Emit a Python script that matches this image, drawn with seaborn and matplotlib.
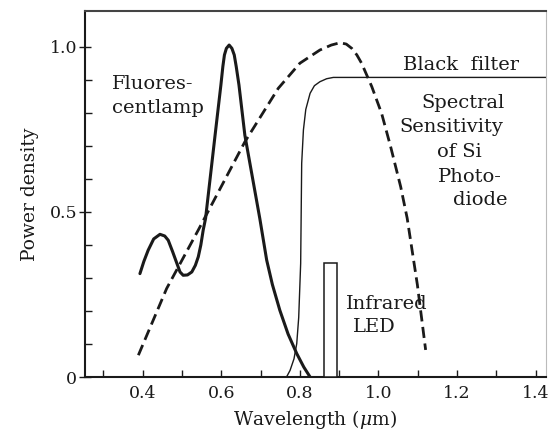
import matplotlib
matplotlib.use("Agg")
import matplotlib.pyplot as plt
from matplotlib.ticker import FixedLocator, FuncFormatter
import pandas as pd
import seaborn as sns

# values (wavelength in um, relative power)
lamp_wl = [0.393, 0.403, 0.414, 0.428, 0.444, 0.456, 0.465, 0.476, 0.487, 0.495,
           0.503, 0.514, 0.525, 0.534, 0.5415, 0.548, 0.554, 0.560, 0.584, 0.599,
           0.604, 0.608, 0.613, 0.620, 0.627, 0.633, 0.638, 0.645, 0.660,
           0.698, 0.7155, 0.730, 0.749, 0.770, 0.792, 0.810, 0.826]
lamp_pw = [0.313, 0.350, 0.384, 0.418, 0.432, 0.427, 0.414, 0.380, 0.344, 0.318,
           0.308, 0.309, 0.318, 0.338, 0.364, 0.400, 0.445, 0.480, 0.730, 0.884,
           0.940, 0.975, 0.995, 1.005, 0.995, 0.975, 0.940, 0.884, 0.732,
           0.480, 0.354, 0.280, 0.202, 0.130, 0.071, 0.030, 0.0]

si_wl = [0.389, 0.461, 0.5415, 0.660, 0.745, 0.800, 0.851, 0.880, 0.902, 0.918,
         0.932, 0.945, 0.957, 0.983, 1.008, 1.031, 1.0565, 1.073, 1.099, 1.120]
si_pw = [0.066, 0.268, 0.445, 0.712, 0.874, 0.950, 0.990, 1.005, 1.012, 1.008,
         0.995, 0.975, 0.950, 0.879, 0.798, 0.697, 0.576, 0.481, 0.279, 0.082]

filter_wl = [0.766, 0.775, 0.785, 0.792, 0.797, 0.802, 0.8046, 0.809, 0.815, 0.826,
             0.837, 0.851, 0.868, 0.885, 1.45]
filter_pw = [0.0, 0.020, 0.055, 0.101, 0.180, 0.344, 0.647, 0.748, 0.810, 0.859,
             0.882, 0.894, 0.903, 0.907, 0.907]

led_lo, led_hi = 0.862, 0.895
led_height = 0.345

x_major = [0.4, 0.6, 0.8, 1.0, 1.2, 1.4]
x_minor = [0.3, 0.5, 0.7, 0.9, 1.1, 1.3]
y_major = [0, 0.5, 1.0]
y_minor = [0.1, 0.2, 0.3, 0.4, 0.6, 0.7, 0.8, 0.9]

sns.set_theme(style="ticks")
plt.rcParams["font.family"] = ["DejaVu Serif"]
plt.rcParams["mathtext.fontset"] = "dejavuserif"

ink = "#1a1a1a"
lamp = pd.DataFrame({"wl": lamp_wl, "p": lamp_pw})
si = pd.DataFrame({"wl": si_wl, "p": si_pw})
filt = pd.DataFrame({"wl": filter_wl, "p": filter_pw})

fig = plt.figure(figsize=(5.48, 4.36), dpi=100)
ax = fig.add_axes([0.1551, 0.1353, 0.8412, 0.8394])

sns.lineplot(data=lamp, x="wl", y="p", color=ink, lw=2.2, ax=ax, sort=False)
sns.lineplot(data=si, x="wl", y="p", color=ink, lw=2.0, ax=ax, sort=False,
             dashes=False, linestyle=(0, (4, 2)))
sns.lineplot(data=filt, x="wl", y="p", color=ink, lw=1.0, ax=ax, sort=False)
ax.bar([(led_lo + led_hi) / 2], [led_height], width=led_hi - led_lo,
       facecolor="white", edgecolor=ink, lw=1.1, zorder=3)

ax.set_xlim(0.2532, 1.4262)
ax.set_ylim(0, 1.108)
ax.xaxis.set_major_locator(FixedLocator(x_major))
ax.xaxis.set_minor_locator(FixedLocator(x_minor))
ax.yaxis.set_major_locator(FixedLocator(y_major))
ax.yaxis.set_minor_locator(FixedLocator(y_minor))
ax.xaxis.set_major_formatter(FuncFormatter(lambda v, p: f"{v:.1f}"))
ax.yaxis.set_major_formatter(FuncFormatter(lambda v, p: "0" if v == 0 else f"{v:.1f}"))
ax.tick_params(which="both", direction="in", length=5, width=1.0, colors=ink,
               labelsize=12.5, pad=6)
ax.tick_params(axis="y", which="major", direction="inout", length=8, pad=1.5)

for side in ["left", "bottom"]:
    ax.spines[side].set_linewidth(1.5)
    ax.spines[side].set_color(ink)
ax.spines["top"].set_linewidth(1.5)
ax.spines["top"].set_color("#444444")
ax.spines["right"].set_linewidth(0.8)
ax.spines["right"].set_color("#bbbbbb")

ax.set_xlabel("Wavelength ($\\mu$m)", fontsize=13.5, color=ink, labelpad=4)
ax.set_ylabel("Power density", fontsize=13.5, color=ink, labelpad=8)

txt = dict(fontsize=14, color=ink, va="baseline")
ax.text(0.321, 0.872, "Fluores-", ha="left", **txt)
ax.text(0.321, 0.799, "centlamp", ha="left", **txt)
ax.text(1.211, 0.929, "Black  filter", ha="center", **txt)
ax.text(1.215, 0.814, "Spectral", ha="center", **txt)
ax.text(1.186, 0.742, "Sensitivity", ha="center", **txt)
ax.text(1.205, 0.666, "of Si", ha="center", **txt)
ax.text(1.233, 0.590, "Photo-", ha="center", **txt)
ax.text(1.258, 0.520, "diode", ha="center", **txt)
ax.text(0.9166, 0.206, "Infrared", ha="left", **txt)
ax.text(0.935, 0.1376, "LED", ha="left", **txt)

fig.savefig("out.png", dpi=100)
